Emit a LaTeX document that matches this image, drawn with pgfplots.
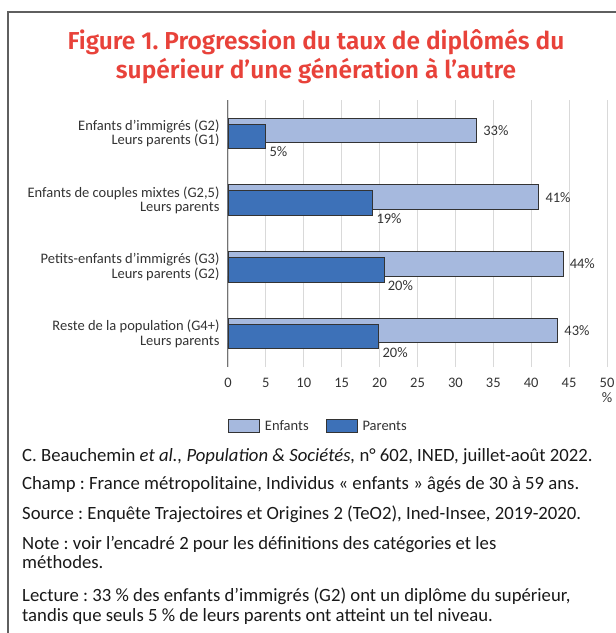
\documentclass[border=0pt]{standalone}
\usepackage{pgfplots}
\pgfplotsset{compat=1.18}
\usepackage{fontspec}
\setmainfont{Carlito}
\newfontfamily\titlefont{Fira Sans SemiBold}
\definecolor{titlered}{RGB}{232,66,58}
\definecolor{enf}{RGB}{166,185,222}
\definecolor{par}{RGB}{61,113,184}
\definecolor{txt}{RGB}{51,51,51}
\definecolor{framec}{RGB}{95,95,95}
\frenchspacing
\begin{document}
\begin{tikzpicture}[x=1pt,y=1pt]
\path[use as bounding box] (0,0) rectangle (616,633);
\draw[framec, line width=1.6pt] (8,0) -- (8,621) -- (616,621);
\node[anchor=base, text=titlered, font=\titlefont\fontsize{24.5}{29}\selectfont] at (316,583) {Figure 1. Progression du taux de diplômés du};
\node[anchor=base, text=titlered, font=\titlefont\fontsize{24.5}{29}\selectfont] at (316,554) {supérieur d’une génération à l’autre};
\begin{axis}[
  at={(228pt,266pt)}, anchor=south west, scale only axis,
  width=379pt, height=267pt,
  xmin=0, xmax=50, ymin=-0.5, ymax=3.5,
  xtick={0,5,...,50}, ytick={0,1,2,3},
  /pgf/number format/assume math mode=true,
  yticklabels={{Reste de la population (G4+)\\Leurs parents},
               {Petits-enfants d'immigrés (G3)\\Leurs parents (G2)},
               {Enfants de couples mixtes (G2,5)\\Leurs parents},
               {Enfants d'immigrés (G2)\\Leurs parents (G1)}},
  separate axis lines,
  axis x line*=bottom, axis y line*=left,
  axis line style={-},
  x axis line style={draw=none},
  y axis line style={draw=black!55, line width=1pt},
  xmajorgrids, grid style={draw=black!15, line width=0.9pt},
  major tick length=0pt,
  tick label style={font=\fontsize{14.5}{14.5}\selectfont, text=txt},
  yticklabel style={align=right, xshift=-5pt},
  xticklabel style={yshift=-8pt},
  xbar, bar width=24.5pt, bar shift=0pt,
  point meta=explicit symbolic,
  legend columns=2,
  legend style={at={(0,0)}, anchor=north west, yshift=-52pt, draw=none, fill=none,
    font=\fontsize{14.5}{15}\selectfont, text=txt, inner sep=0pt,
    nodes={inner xsep=5pt, inner ysep=1pt},
    cells={anchor=west},
    /tikz/every even column/.append style={column sep=12pt}},
  legend image code/.code={\draw[#1,line width=0.8pt] (0pt,-6.5pt) rectangle (31pt,6.5pt);},
]
\addplot[fill=enf, draw=black!80, line width=0.8pt,
  nodes near coords, nodes near coords style={anchor=west, xshift=3pt, text=txt, font=\fontsize{14.5}{15}\selectfont}]
  coordinates {(32.8,3.045)[33\%] (41.0,2.045)[41\%] (44.2,1.045)[44\%] (43.5,0.045)[43\%]};
\addlegendentry{Enfants}
\addplot[fill=par, draw=black!80, line width=0.8pt,
  nodes near coords, nodes near coords style={anchor=west, xshift=0pt, yshift=-15.5pt, text=txt, font=\fontsize{14.5}{15}\selectfont}]
  coordinates {(5.0,2.955)[5\%] (19.1,1.955)[19\%] (20.6,0.955)[20\%] (19.9,-0.045)[20\%]};
\addlegendentry{Parents}
\end{axis}
\node[text=txt, font=\fontsize{14.5}{15}\selectfont] at (607,235) {\%};
\begin{scope}[every node/.style={anchor=base west, inner sep=0pt, font=\fontsize{18.7}{19}\selectfont, text=black!90}]
\node at (22,171) {C. Beauchemin \textit{et al., Population \& Sociétés,} n° 602, INED, juillet-août 2022.};
\node at (22,143) {Champ : France métropolitaine, Individus « enfants » âgés de 30 à 59 ans.};
\node at (22,113) {Source : Enquête Trajectoires et Origines 2 (TeO2), Ined-Insee, 2019-2020.};
\node at (22,83) {Note : voir l’encadré 2 pour les définitions des catégories et les};
\node at (22,64) {méthodes.};
\node at (22,31) {Lecture : 33 \% des enfants d’immigrés (G2) ont un diplôme du supérieur,};
\node at (22,12) {tandis que seuls 5 \% de leurs parents ont atteint un tel niveau.};
\end{scope}
\end{tikzpicture}
\end{document}
